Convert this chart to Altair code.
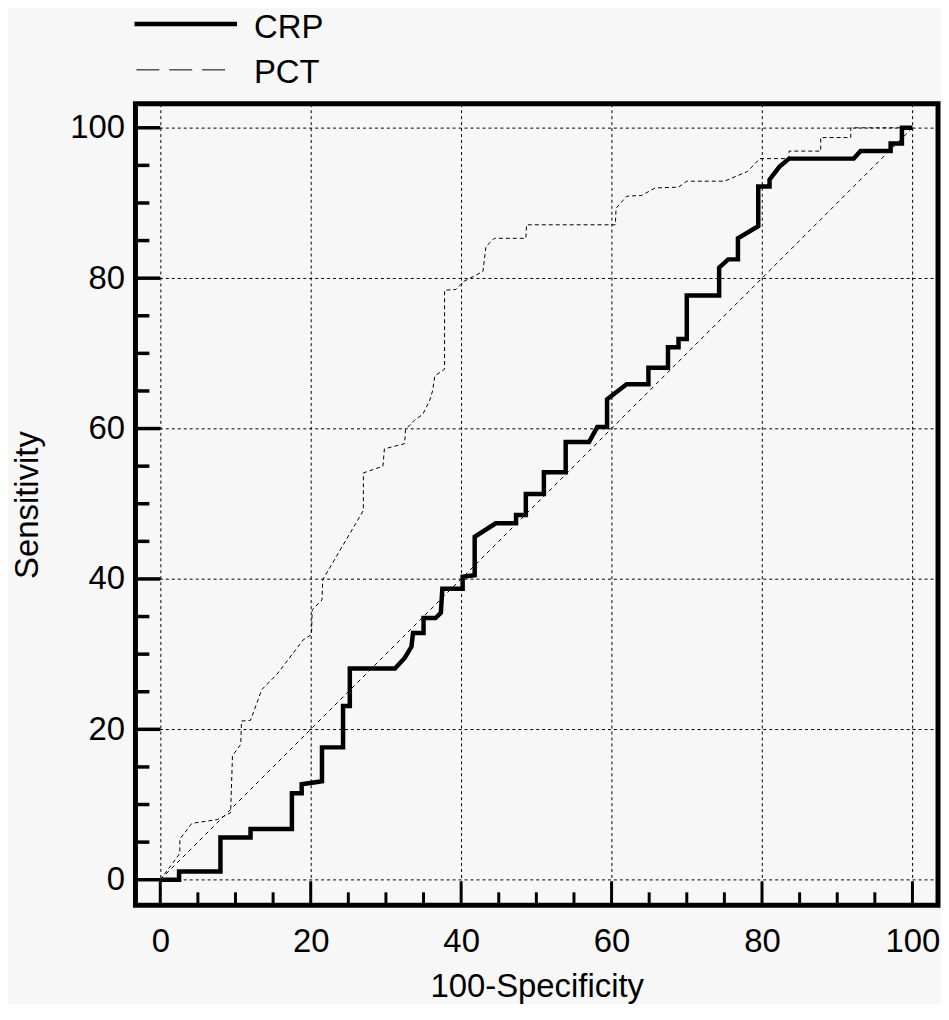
import altair as alt
import pandas as pd

# ---- data ----
series_names = ["CRP", "PCT"]

crp_x = [0, 2.5, 2.5, 8.0, 8.0, 12.0, 12.0, 17.5, 17.5, 18.8, 18.8, 21.5, 21.5, 24.3, 24.3,
         25.2, 25.2, 31.2, 32.5, 33.4, 33.6, 35.0, 35.0, 36.6, 37.3, 37.5, 40.2, 40.2, 41.8,
         41.8, 44.6, 47.3, 47.3, 48.6, 48.6, 51.0, 51.0, 53.9, 53.9, 57.0, 58.1, 59.4, 59.4,
         62.0, 64.9, 64.9, 67.5, 67.5, 68.9, 68.9, 70.0, 70.0, 74.3, 74.3, 75.5, 76.8, 76.8,
         79.5, 79.5, 81.0, 81.0, 82.3, 83.6, 92.2, 93.1, 97.1, 97.1, 98.6, 98.6, 100]
crp_y = [0, 0, 1.1, 1.1, 5.6, 5.6, 6.75, 6.75, 11.5, 11.5, 12.7, 13.1, 17.6, 17.6, 23.1,
         23.1, 28.1, 28.1, 29.5, 31.0, 32.8, 32.8, 34.8, 34.8, 35.5, 38.7, 38.7, 40.3, 40.5,
         45.6, 47.4, 47.4, 48.5, 48.5, 51.3, 51.3, 54.2, 54.2, 58.2, 58.2, 60.2, 60.2, 63.9,
         65.9, 65.9, 68.1, 68.1, 70.8, 70.8, 71.9, 71.9, 77.7, 77.7, 81.4, 82.5, 82.5, 85.3,
         86.9, 92.2, 92.2, 93.1, 94.8, 95.9, 95.9, 96.9, 96.9, 97.9, 97.9, 100, 100]

pct_x = [0, 1.5, 2.6, 2.6, 4.2, 7.6, 9.35, 9.6, 10.7, 10.8, 12.0, 13.5, 15.5, 19.0, 20.1,
         20.2, 21.5, 21.6, 27.0, 27.0, 29.6, 29.8, 32.5, 32.6, 33.8, 34.9, 35.8, 36.2, 36.5,
         37.8, 37.8, 39.3, 40.4, 42.9, 43.3, 44.4, 48.6, 48.7, 60.5, 60.6, 62.0, 64.0, 65.8,
         68.9, 70.0, 75.0, 78.1, 79.7, 83.6, 83.6, 87.8, 87.8, 91.8, 91.8, 100]
pct_y = [0, 2.0, 3.5, 5.4, 7.5, 8.0, 8.9, 16.5, 18.0, 21.1, 21.2, 25.3, 27.3, 31.9, 32.6,
         35.9, 37.2, 39.9, 49.1, 54.1, 55.0, 57.3, 58.0, 59.9, 61.1, 61.9, 63.7, 65.0, 67.0,
         67.9, 78.4, 78.5, 79.6, 80.9, 84.2, 85.3, 85.3, 87.1, 87.1, 89.3, 90.9, 91.0, 92.0,
         92.1, 92.9, 92.9, 94.2, 95.9, 95.9, 96.9, 96.9, 98.7, 98.7, 100, 100]

ref_x = [0, 100]
ref_y = [0, 100]

grid_values = [0, 20, 40, 60, 80, 100]
major_ticks = [0, 20, 40, 60, 80, 100]
minor_ticks = [5, 10, 15, 25, 30, 35, 45, 50, 55, 65, 70, 75, 85, 90, 95]

# ---- tables ----
rows = []
for name, xs_, ys_ in [("CRP", crp_x, crp_y), ("PCT", pct_x, pct_y)]:
    for i, (xv, yv) in enumerate(zip(xs_, ys_)):
        rows.append({"series": name, "x": xv, "y": yv, "i": i})
curves = pd.DataFrame(rows)
ref = pd.DataFrame({"x": ref_x, "y": ref_y, "i": [0, 1]})
major_x = pd.DataFrame({"x": major_ticks})
minor_x = pd.DataFrame({"x": minor_ticks})
major_y = pd.DataFrame({"y": major_ticks})
minor_y = pd.DataFrame({"y": minor_ticks})
legend_crp = pd.DataFrame({"series": [series_names[0]]})
legend_pct = pd.DataFrame({"series": [series_names[1]]})

FONT = "Liberation Sans"
W, H = 806, 805

xs = alt.Scale(domain=[-3.3, 103.4], nice=False, zero=False)
ys = alt.Scale(domain=[-3.4, 103.2], nice=False, zero=False)

x_axis = alt.Axis(values=grid_values, grid=True, ticks=False, domain=False,
                  labelFontSize=33, labelFont=FONT, labelColor="black", labelPadding=20,
                  title="100-Specificity", titleFontSize=33, titleFont=FONT,
                  titleFontWeight="normal", titleColor="black",
                  titleX=W / 2, titleY=92, titleBaseline="alphabetic", titleAlign="center")
y_axis = alt.Axis(values=grid_values, grid=True, ticks=False, domain=False,
                  labelFontSize=33, labelFont=FONT, labelColor="black", labelPadding=11,
                  title="Sensitivity", titleFontSize=33, titleFont=FONT,
                  titleFontWeight="normal", titleColor="black",
                  titleX=-108, titleY=H / 2, titleBaseline="middle", titleAlign="center",
                  titleAngle=270)

X = alt.X("x:Q", scale=xs, axis=x_axis)
Y = alt.Y("y:Q", scale=ys, axis=y_axis)

ref_line = alt.Chart(ref).mark_line(color="black", strokeWidth=1, strokeDash=[4, 4]).encode(
    x=X, y=Y, order="i:Q")

crp_line = alt.Chart(curves).transform_filter(alt.datum.series == "CRP").mark_line(
    color="black", strokeWidth=4.5, strokeJoin="miter").encode(x=X, y=Y, order="i:Q")
pct_line = alt.Chart(curves).transform_filter(alt.datum.series == "PCT").mark_line(
    color="black", strokeWidth=1, strokeDash=[4, 3]).encode(x=X, y=Y, order="i:Q")

tick_major_x = alt.Chart(major_x).mark_rule(color="black", strokeWidth=3).encode(
    x=X, y=alt.value(H), y2=alt.value(H - 24))
tick_minor_x = alt.Chart(minor_x).mark_rule(color="black", strokeWidth=3).encode(
    x=X, y=alt.value(H), y2=alt.value(H - 13))
tick_major_y = alt.Chart(major_y).mark_rule(color="black", strokeWidth=3.5).encode(
    y=Y, x=alt.value(0), x2=alt.value(25))
tick_minor_y = alt.Chart(minor_y).mark_rule(color="black", strokeWidth=3.5).encode(
    y=Y, x=alt.value(0), x2=alt.value(14))

# legend (drawn as guide marks above the plot)
leg_crp_sym = alt.Chart(legend_crp).mark_rule(color="black", strokeWidth=4.5).encode(
    x=alt.value(-1), x2=alt.value(102), y=alt.value(-80))
leg_pct_sym = alt.Chart(legend_pct).mark_rule(color="black", strokeWidth=1,
                                              strokeDash=[23, 10]).encode(
    x=alt.value(1), x2=alt.value(92), y=alt.value(-34))
leg_crp_txt = alt.Chart(legend_crp).mark_text(
    align="left", baseline="middle", fontSize=33, font=FONT, color="black").encode(
    text="series:N", x=alt.value(119), y=alt.value(-76))
leg_pct_txt = alt.Chart(legend_pct).mark_text(
    align="left", baseline="middle", fontSize=33, font=FONT, color="black").encode(
    text="series:N", x=alt.value(119), y=alt.value(-31))

chart = alt.layer(
    ref_line, pct_line, crp_line, tick_major_x, tick_minor_x, tick_major_y, tick_minor_y,
    leg_crp_sym, leg_pct_sym, leg_crp_txt, leg_pct_txt
).properties(
    width=W, height=H,
    autosize=alt.AutoSizeParams(type="none"),
    padding={"left": 128, "top": 94, "right": 3, "bottom": 97},
).configure(
    background="#f7f7f7",
).configure_view(
    stroke="black", strokeWidth=5, fill="#f7f7f7",
).configure_axis(
    gridColor="black", gridDash=[3, 3], gridWidth=1, gridOpacity=1,
)

chart.save("out.html", embed_options={"renderer": "svg", "actions": False})
